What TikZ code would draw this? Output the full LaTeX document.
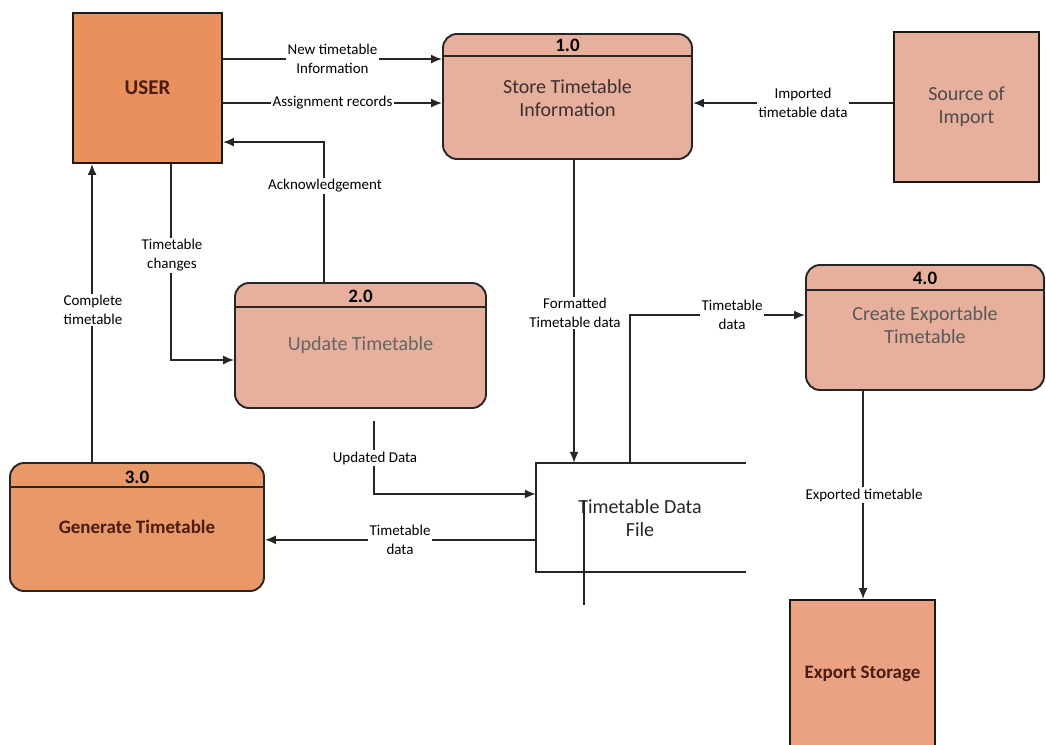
\documentclass[tikz,border=0pt]{standalone}
\usepackage{fontspec}
\setmainfont{Carlito}
\usetikzlibrary{arrows.meta,calc}
\definecolor{entityorange}{HTML}{E8915C}
\definecolor{genorange}{HTML}{E99868}
\definecolor{procpink}{HTML}{E6B09C}
\definecolor{exportfill}{HTML}{EBA283}
\definecolor{boxtext}{HTML}{3A3030}
\definecolor{gentext}{HTML}{4A1C12}
\tikzset{
  entity/.style={draw=black!90, line width=1.9pt, rectangle, inner sep=0pt},
  proc/.style={draw=black!85, line width=1.9pt, rounded corners=14pt, fill=procpink, inner sep=0pt},
  title/.style={font=\fontsize{20}{23}\selectfont, text=boxtext, align=center},
  num/.style={font=\fontsize{19}{20}\selectfont\bfseries},
  flabel/.style={font=\fontsize{15}{19}\selectfont, fill=white, inner sep=1.5pt, align=center},
  flow/.style={draw=black!85, line width=1.6pt, -{Latex[length=11pt,width=9pt]}},
  plain/.style={draw=black!85, line width=1.6pt},
}
\begin{document}
\begin{tikzpicture}[x=1pt,y=-1pt]
\clip (0,0) rectangle (1046,744);
\fill[white] (0,0) rectangle (1046,744);

% external entities
\node[entity, fill=entityorange, minimum width=149pt, minimum height=150pt] (user) at (147.5,88) {};
\node[font=\fontsize{21}{22}\selectfont\bfseries, text=gentext] (usert) at (147.5,88) {USER};
\node[entity, fill=procpink, minimum width=145pt, minimum height=150pt] (src) at (966.5,107) {};
\node[title, text=black!70] (srct) at (966.5,107) {Source of\\Import};
\node[entity, fill=exportfill, minimum width=145pt, minimum height=160pt] (exp) at (862.5,680) {};
\node[font=\fontsize{19}{22}\selectfont\bfseries, text=gentext] (expt) at (862.5,674) {Export Storage};

% processes
\node[proc, minimum width=249pt, minimum height=125pt] (p1) at (567.5,96.5) {};
\draw[plain] ($(p1.north west)+(0,23)$) -- ($(p1.north east)+(0,23)$);
\node[num] (p1n) at (567.5,45) {1.0};
\node[title] (p1t) at (567.5,98) {Store Timetable\\Information};

\node[proc, minimum width=251pt, minimum height=125pt] (p2) at (360.5,345.5) {};
\draw[plain] ($(p2.north west)+(0,25)$) -- ($(p2.north east)+(0,25)$);
\node[num] (p2n) at (360.5,296) {2.0};
\node[title, text=black!60] (p2t) at (360.5,345) {Update Timetable};

\node[proc, fill=genorange, minimum width=254pt, minimum height=128pt] (p3) at (137,527) {};
\draw[plain] ($(p3.north west)+(0,25)$) -- ($(p3.north east)+(0,25)$);
\node[num] (p3n) at (137,477) {3.0};
\node[font=\fontsize{19}{22}\selectfont\bfseries, text=gentext] (p3t) at (137,527) {Generate Timetable};

\node[proc, minimum width=238pt, minimum height=125pt] (p4) at (925,327.5) {};
\draw[plain] ($(p4.north west)+(0,26)$) -- ($(p4.north east)+(0,26)$);
\node[num] (p4n) at (925,278) {4.0};
\node[title, text=black!65] (p4t) at (925,325) {Create Exportable\\Timetable};

% data store (open on the right)
\node[minimum width=210pt, minimum height=109pt, inner sep=0pt] (store) at (641,517.5) {};
\draw[plain] (store.north east) -- (store.north west) -- (store.south west) -- (store.south east);
\node[title, text=black!85] (storet) at (640,518) {Timetable Data\\File};
\coordinate (sepa) at ($(store.north west)+(48,37)$);
\coordinate (sepb) at ($(store.north west)+(48,142)$);
\draw[plain] (sepa) -- (sepb);

% data flows
\draw[flow] ($(user.north east)+(0,47)$) -- ($(p1.north west)+(0,26)$)
  node[flabel, pos=0.5] (l1) {New timetable\\Information};
\draw[flow] ($(user.north east)+(0,91)$) -- ($(p1.north west)+(0,70)$)
  node[flabel, pos=0.5] (l2) {Assignment records};
\coordinate (impin) at ($(p1.north east)+(0,70)$);
\draw[flow] (src.west |- impin) -- (impin)
  node[flabel, pos=0.45] (l3) {Imported\\timetable data};

\coordinate (ackbend) at ($(p2.north west)+(90,-140)$);
\draw[flow] ($(p2.north west)+(90,0)$) -- (ackbend) -- (ackbend -| user.east);
\node[flabel] (l4) at (325,186) {Acknowledgement};

\coordinate (chg) at ($(user.south west)+(99,0)$);
\coordinate (chgin) at ($(p2.west)+(0,14.5)$);
\draw[flow] (chg) |- (chgin);
\node[flabel] (l5) at (172,255) {Timetable\\changes};

\coordinate (cmp) at ($(p3.north west)+(83,0)$);
\draw[flow] (cmp) -- (cmp |- user.south);
\node[flabel] (l6) at (93,310) {Complete\\timetable};

\coordinate (fmt) at ($(p1.south west)+(132,0)$);
\draw[flow] (fmt) -- (fmt |- store.north);
\node[flabel] (l7) at (575,313) {Formatted\\Timetable data};

\coordinate (tdup) at ($(store.north west)+(94,0)$);
\coordinate (tdin) at ($(p4.north west)+(0,51)$);
\draw[flow] (tdup) |- (tdin);
\node[flabel] (l8) at (732,315) {Timetable\\data};

\coordinate (expx) at ($(p4.south west)+(58,0)$);
\draw[flow] (expx) -- (expx |- exp.north);
\node[flabel] (l9) at (864,495) {Exported timetable};

\coordinate (upd) at ($(p2.south west)+(140,12)$);
\coordinate (updbend) at ($(upd)+(0,73)$);
\draw[flow] (upd) -- (updbend) -- (updbend -| store.west);
\node[flabel] (l10) at (375,458) {Updated Data};

\coordinate (tdout) at ($(store.north west)+(0,77)$);
\draw[flow] (tdout) -- (tdout -| p3.east);
\node[flabel] (l11) at (400,540) {Timetable\\data};
\end{tikzpicture}
\end{document}
